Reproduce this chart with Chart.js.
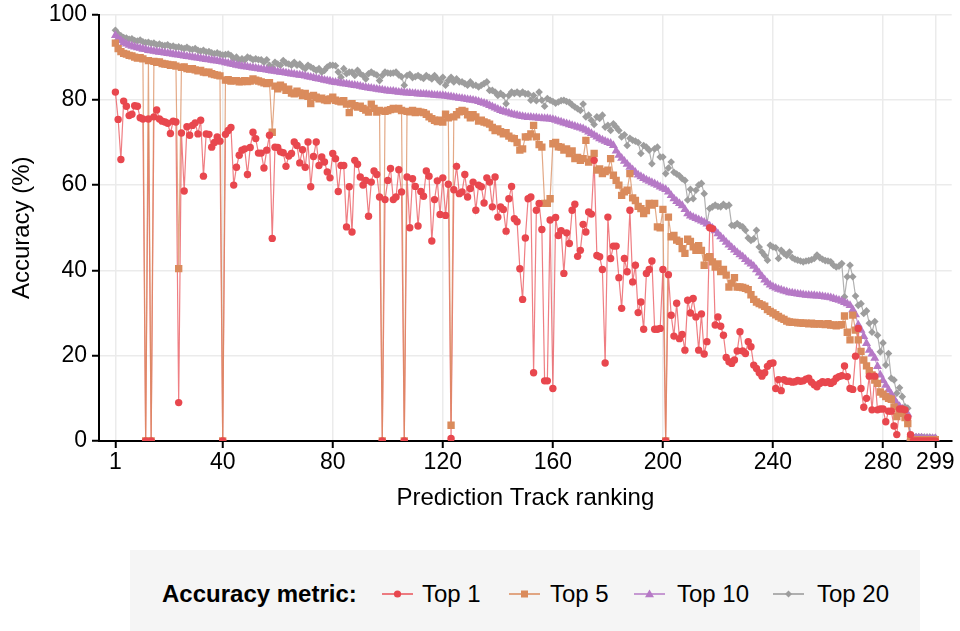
<!DOCTYPE html>
<html>
<head>
<meta charset="utf-8">
<script src="https://cdn.jsdelivr.net/npm/chart.js@4.4.1/dist/chart.umd.min.js"></script>
<style>
  body { margin: 0; background: #fff; }
  #wrap { position: relative; width: 960px; height: 631px; font-family: "Liberation Sans", Arial, sans-serif; }
  #chart { position: absolute; left: 0; top: 0; }
  #legend { position: absolute; left: 130px; top: 550px; width: 790px; height: 81px; background: #f5f5f5; }
  #legend .item { position: absolute; top: 44px; transform: translateY(-50%); font-size: 24px; line-height: 28px; color: #000; white-space: nowrap; }
  #legend .title { font-weight: bold; }
  #legend svg { position: absolute; top: 44px; transform: translateY(-50%); }
</style>
</head>
<body>
<div id="wrap">
  <canvas id="chart" width="960" height="631"></canvas>
  <div id="legend"></div>
</div>
<script>
const FONT = '"Liberation Sans", Arial, sans-serif';

// prediction track ranks on the x axis
const ranking = Array.from({ length: 299 }, (_, i) => i + 1);
const xTicks = [1, 40, 80, 120, 160, 200, 240, 280, 299];
const yTicks = [0, 20, 40, 60, 80, 100];

const top1 = [
  81.8, 75.4, 66.0, 79.7, 78.5, 76.3, 76.6, 78.6, 78.5, 75.8,
  75.5, 0, 75.5, 0, 76.0, 77.6, 75.5, 75.0, 74.8, 74.5,
  72.1, 75.0, 74.8, 9.0, 72.2, 58.6, 73.7, 71.7, 74.0, 74.6,
  72.0, 75.2, 62.1, 72.0, 71.9, 68.9, 70.0, 71.3, 70.3, 0,
  71.9, 72.8, 73.5, 60.0, 64.2, 67.0, 68.2, 68.5, 62.5, 68.8,
  72.4, 70.9, 67.5, 67.5, 64.0, 68.2, 71.7, 47.5, 68.9, 68.8,
  67.8, 67.6, 64.4, 66.8, 67.4, 70.1, 69.3, 65.2, 68.3, 64.2,
  70.1, 59.6, 66.7, 70.1, 64.6, 66.6, 65.4, 63.1, 61.7, 67.4,
  66.2, 58.5, 64.6, 64.6, 50.2, 59.6, 49.0, 65.8, 64.9, 61.9,
  60.0, 61.1, 52.7, 60.7, 63.3, 62.5, 57.2, 0, 56.6, 61.1,
  63.9, 56.6, 57.2, 63.6, 58.4, 0, 61.9, 50.0, 61.5, 59.7,
  50.4, 58.5, 57.4, 63.3, 62.1, 46.9, 56.6, 61.0, 53.1, 61.7,
  52.9, 60.2, 0.6, 58.9, 64.4, 58.0, 58.4, 62.5, 57.2, 59.2,
  60.7, 54.1, 60.0, 59.6, 55.8, 61.7, 60.7, 54.9, 61.9, 52.5,
  54.9, 54.3, 49.2, 56.8, 59.7, 52.1, 51.4, 40.4, 33.2, 47.6,
  56.8, 57.2, 16.0, 54.1, 55.7, 49.6, 14.1, 14.1, 51.8, 12.3,
  52.4, 48.2, 49.3, 39.3, 48.8, 46.3, 54.1, 55.5, 43.3, 44.7,
  50.8, 49.0, 53.7, 53.2, 65.8, 43.5, 43.2, 40.2, 18.3, 52.5,
  42.8, 45.7, 45.7, 38.3, 31.1, 42.8, 39.7, 54.1, 37.3, 41.2,
  30.1, 32.6, 26.2, 39.3, 40.2, 42.2, 26.2, 26.2, 26.4, 40.2,
  0, 39.0, 29.5, 24.6, 32.3, 24.0, 25.0, 21.3, 33.0, 30.0,
  33.4, 29.1, 21.3, 29.8, 20.4, 23.3, 50.0, 49.8, 27.2, 29.1,
  26.9, 24.8, 19.6, 18.6, 18.2, 19.0, 21.1, 25.6, 21.1, 20.5,
  23.3, 22.1, 17.8, 17.0, 16.0, 15.2, 16.0, 17.5, 18.2, 18.3,
  12.3, 14.4, 11.8, 14.4, 14.0, 14.0, 13.8, 13.9, 14.2, 14.0,
  14.1, 14.5, 14.7, 13.8, 13.2, 12.7, 13.5, 13.9, 13.7, 13.9,
  13.5, 13.9, 14.7, 15.1, 15.3, 17.6, 15.1, 12.3, 12.1, 19.9,
  26.4, 12.3, 7.9, 10.0, 15.2, 7.3, 15.2, 7.3, 7.5, 7.5,
  4.5, 7.0, 7.0, 3.5, 1.5, 7.5, 7.5, 7.3, 5.5, 1.5,
  0, 0, 0, 0, 0, 0, 0, 0, 0
];

const top5 = [
  93.3, 92.0, 91.3, 90.9, 90.7, 90.4, 90.3, 90.0, 89.8, 89.9,
  89.6, 0, 89.2, 0, 89.0, 88.8, 88.9, 88.5, 88.4, 88.3,
  88.1, 88.2, 87.9, 40.4, 87.6, 87.7, 87.3, 87.2, 87.3, 87.0,
  86.8, 86.9, 86.5, 86.4, 86.5, 86.1, 85.9, 85.8, 85.6, 0,
  84.6, 84.7, 84.4, 84.5, 84.5, 84.2, 84.3, 84.5, 84.3, 84.4,
  84.9, 84.6, 84.4, 84.2, 84.0, 83.8, 84.0, 72.4, 83.2, 82.6,
  83.4, 83.0, 82.2, 82.5, 81.6, 81.4, 82.0, 81.6, 81.0, 81.5,
  80.8, 79.1, 81.0, 80.6, 80.2, 80.4, 80.0, 79.8, 80.2, 80.6,
  79.9, 79.7, 79.5, 79.8, 79.0, 77.0, 79.1, 78.6, 78.3, 78.5,
  78.0, 77.6, 77.1, 79.0, 78.0, 77.1, 77.5, 0, 77.3, 77.5,
  77.7, 78.0, 77.8, 78.0, 77.5, 0, 77.3, 77.2, 77.5, 77.0,
  77.3, 77.1, 77.0, 76.6, 76.0, 75.6, 75.2, 74.9, 75.2, 74.8,
  76.6, 75.8, 3.7, 76.0, 76.5, 77.2, 77.5, 77.3, 76.5, 75.8,
  76.5, 76.0, 75.0, 75.2, 74.8, 74.6, 74.3, 73.5, 72.8, 73.2,
  72.5, 72.0, 72.3, 71.5, 71.0, 70.9, 70.0, 68.2, 68.5, 71.3,
  71.3, 72.0, 74.0, 71.3, 69.5, 68.9, 55.7, 55.7, 56.8, 69.7,
  70.0, 69.0, 68.9, 68.2, 68.5, 67.4, 68.0, 66.2, 66.5, 65.8,
  66.2, 70.5, 65.4, 66.0, 67.4, 63.5, 63.8, 62.7, 63.2, 63.5,
  66.2, 62.3, 61.1, 60.0, 57.6, 58.4, 58.8, 62.7, 57.0, 56.4,
  55.0, 54.5, 53.3, 54.0, 55.7, 55.3, 55.7, 50.2, 50.0, 54.3,
  0, 52.5, 47.9, 48.2, 47.1, 46.8, 45.1, 44.0, 47.3, 46.8,
  45.5, 44.7, 45.8, 44.7, 41.2, 43.0, 43.2, 42.0, 40.8, 41.5,
  39.7, 40.2, 38.9, 36.1, 37.0, 38.3, 36.1, 36.1, 36.0, 35.8,
  35.5, 34.3, 33.2, 32.6, 32.2, 31.9, 31.6, 30.8, 30.4, 30.0,
  29.6, 29.2, 28.8, 28.5, 28.1, 27.9, 27.8, 27.8, 27.7, 27.7,
  27.6, 27.6, 27.5, 27.6, 27.4, 27.5, 27.5, 27.4, 27.3, 27.5,
  27.2, 27.2, 27.0, 27.2, 27.3, 29.3, 25.5, 23.7, 29.5, 26.0,
  23.7, 21.0, 19.0, 17.6, 16.5, 15.5, 14.3, 13.5, 11.5, 11.0,
  10.4, 10.0, 9.8, 8.0, 5.7, 7.3, 6.5, 5.5, 4.1, 0.4,
  0.3, 0.3, 0.3, 0.3, 0.3, 0.3, 0.3, 0.3, 0.3
];

const top10 = [
  95.1, 94.4, 93.9, 93.4, 93.1, 92.8, 92.6, 92.4, 92.2, 92.1,
  91.9, 91.8, 91.6, 91.5, 91.4, 91.3, 91.2, 91.1, 91.0, 90.9,
  90.8, 90.7, 90.6, 90.5, 90.4, 90.3, 90.2, 90.1, 90.0, 89.9,
  89.8, 89.7, 89.6, 89.5, 89.4, 89.3, 89.2, 89.1, 89.0, 88.9,
  88.7, 88.6, 88.4, 88.3, 88.1, 88.0, 87.9, 87.8, 87.7, 87.6,
  87.5, 87.4, 87.3, 87.2, 87.1, 87.0, 86.9, 86.8, 86.7, 86.6,
  86.5, 86.4, 86.3, 86.2, 86.1, 86.0, 85.9, 85.8, 85.7, 85.6,
  85.4, 85.3, 85.2, 85.0, 84.9, 84.8, 84.6, 84.5, 84.4, 84.2,
  84.1, 84.0, 83.9, 83.8, 83.7, 83.6, 83.5, 83.4, 83.3, 83.2,
  83.0, 82.9, 82.8, 82.7, 82.6, 82.5, 82.4, 82.3, 82.2, 82.1,
  82.0, 82.0, 81.9, 81.8, 81.8, 81.7, 81.6, 81.6, 81.5, 81.5,
  81.4, 81.4, 81.3, 81.3, 81.2, 81.2, 81.1, 81.1, 81.0, 81.0,
  80.9, 80.8, 80.7, 80.6, 80.5, 80.4, 80.3, 80.2, 80.1, 80.0,
  79.9, 79.8, 79.6, 79.4, 79.2, 79.0, 78.7, 78.4, 78.1, 77.8,
  77.5, 77.3, 77.1, 76.9, 76.7, 76.5, 76.4, 76.2, 76.1, 76.0,
  75.9, 75.9, 75.8, 75.8, 75.7, 75.7, 75.6, 75.6, 75.5, 75.4,
  75.2, 75.0, 74.8, 74.6, 74.4, 74.2, 74.0, 73.8, 73.6, 73.4,
  73.2, 72.9, 72.5, 72.1, 71.7, 71.3, 70.9, 70.6, 70.3, 70.0,
  69.8, 69.3, 68.0, 67.0, 66.3, 65.6, 64.9, 64.2, 63.6, 63.0,
  62.4, 62.0, 61.6, 61.2, 60.9, 60.6, 60.3, 60.0, 59.6, 59.3,
  59.0, 58.4, 57.6, 56.8, 56.2, 55.7, 55.2, 54.3, 53.3, 52.8,
  52.5, 52.2, 51.9, 51.6, 51.3, 50.9, 50.4, 49.9, 49.3, 48.6,
  47.9, 47.3, 46.6, 46.0, 45.4, 44.8, 44.2, 43.7, 43.2, 42.6,
  42.0, 41.5, 41.0, 40.2, 39.4, 38.6, 37.8, 37.1, 36.6, 36.2,
  35.9, 35.6, 35.4, 35.2, 35.0, 34.8, 34.7, 34.6, 34.5, 34.4,
  34.3, 34.2, 34.2, 34.1, 34.1, 34.0, 34.0, 33.9, 33.8, 33.7,
  33.6, 33.4, 33.2, 33.0, 32.8, 32.5, 32.2, 31.8, 30.8, 29.6,
  27.2, 26.0, 24.5, 22.9, 21.3, 20.4, 19.4, 17.5, 15.5, 14.2,
  13.1, 12.0, 11.0, 9.9, 8.8, 8.1, 7.5, 6.9, 6.3, 0.7,
  0.7, 0.7, 0.7, 0.7, 0.6, 0.6, 0.6, 0.6, 0.6
];

const top20 = [
  96.3, 95.5, 95.0, 94.6, 94.5, 94.2, 94.3, 93.9, 93.8, 94.0,
  93.6, 93.4, 93.5, 93.2, 93.3, 92.9, 93.1, 92.8, 92.7, 92.9,
  92.5, 92.6, 92.3, 92.4, 92.2, 92.0, 92.3, 91.9, 91.8, 92.0,
  91.6, 91.4, 91.6, 91.2, 91.3, 91.0, 90.8, 91.0, 90.7, 90.5,
  90.6, 90.7, 90.4, 89.6, 90.0, 89.2, 89.6, 89.3, 90.0, 89.8,
  89.4, 89.6, 89.4, 89.4, 88.8, 89.4, 88.1, 87.7, 88.8, 88.4,
  88.1, 89.2, 88.6, 88.4, 88.1, 88.8, 88.1, 88.4, 87.7, 87.3,
  88.1, 87.7, 87.3, 86.9, 87.3, 86.5, 86.9, 87.7, 88.1, 88.1,
  88.0, 86.5, 85.3, 87.3, 86.1, 86.5, 86.5, 85.7, 86.9, 86.1,
  85.7, 84.9, 86.1, 86.5, 86.1, 85.8, 84.5, 85.7, 86.5, 86.3,
  86.2, 86.3, 86.5, 85.8, 85.4, 83.4, 85.7, 86.0, 85.2, 85.4,
  85.7, 85.3, 85.0, 85.7, 85.3, 84.9, 85.7, 84.9, 84.2, 85.3,
  83.4, 84.5, 85.3, 84.2, 84.9, 84.2, 84.2, 83.8, 83.4, 84.2,
  83.4, 83.4, 83.0, 83.4, 83.8, 84.2, 82.2, 82.2, 81.8, 81.0,
  81.5, 81.0, 79.1, 81.0, 81.8, 81.5, 81.8, 81.4, 81.8, 81.4,
  81.4, 79.9, 81.0, 79.8, 81.8, 79.9, 78.5, 80.3, 79.9, 79.6,
  79.2, 79.5, 79.8, 79.9, 79.6, 79.4, 78.8, 78.3, 77.9, 77.5,
  79.0, 76.0, 76.4, 75.2, 74.2, 76.0, 75.6, 76.4, 73.6, 74.0,
  72.8, 74.4, 73.6, 72.8, 71.3, 71.8, 69.3, 71.0, 70.5, 70.3,
  70.0, 67.4, 69.3, 68.9, 68.2, 65.0, 68.5, 68.9, 66.6, 66.6,
  62.7, 64.0, 65.4, 63.0, 62.6, 62.2, 61.5, 61.1, 56.5, 59.0,
  56.8, 58.8, 60.0, 60.4, 58.0, 51.0, 54.5, 54.9, 55.3, 55.0,
  54.9, 55.5, 55.0, 55.3, 50.6, 50.5, 51.0, 50.5, 50.2, 49.4,
  47.6, 47.0, 47.4, 49.4, 45.5, 44.3, 43.5, 42.4, 45.9, 45.5,
  45.3, 42.8, 44.7, 44.0, 43.5, 44.3, 43.0, 42.6, 42.4, 42.2,
  42.0, 42.2, 42.3, 42.5, 42.8, 43.6, 43.0, 42.6, 42.3, 42.2,
  42.0, 41.2, 40.8, 41.0, 41.6, 33.8, 38.5, 41.2, 38.5, 34.0,
  31.8, 32.2, 29.9, 30.5, 27.6, 25.5, 28.0, 24.8, 20.9, 23.0,
  17.8, 20.5, 14.7, 14.3, 11.2, 12.5, 10.4, 8.0, 7.7, 1.0,
  1.0, 1.0, 1.0, 1.0, 0.9, 0.9, 0.9, 0.8, 0.8
];

const metrics = [
  { label: 'Top 1',  values: top1,  color: '#e8474e', line: 'rgba(232,71,78,0.7)',   style: 'circle',   radius: 3.7 },
  { label: 'Top 5',  values: top5,  color: '#da8b5c', line: 'rgba(218,139,92,0.75)', style: 'rect',     radius: 5.2 },
  { label: 'Top 10', values: top10, color: '#b679c6', line: 'rgba(182,121,198,0.75)', style: 'triangle', radius: 5.2 },
  { label: 'Top 20', values: top20, color: '#9d9d9d', line: 'rgba(157,157,157,0.8)', style: 'rectRot',  radius: 3.8 }
];

const toPoints = (values) => values.map((v, i) => ({ x: ranking[i], y: v }));

// all connecting lines go underneath, markers on top (Top 1 markers last)
const lineSets = metrics.map((m, k) => ({
  label: m.label,
  data: toPoints(m.values),
  borderColor: m.line,
  borderWidth: 1.2,
  pointRadius: 0,
  tension: 0,
  order: 8 - k
}));
const markerSets = metrics.map((m, k) => ({
  label: m.label,
  data: toPoints(m.values),
  showLine: false,
  pointStyle: m.style,
  pointRadius: m.radius,
  pointBackgroundColor: m.color,
  pointBorderWidth: 0,
  order: k + 1
}));

new Chart(document.getElementById('chart'), {
  type: 'line',
  data: { datasets: [...lineSets, ...markerSets] },
  options: {
    responsive: false,
    animation: false,
    events: [],
    layout: { padding: { left: 0, right: 8.3, top: 14.5, bottom: 0 } },
    plugins: { legend: { display: false }, tooltip: { enabled: false } },
    scales: {
      x: {
        type: 'linear',
        min: -4.96,
        max: 304.96,
        afterBuildTicks: (scale) => { scale.ticks = xTicks.map((v) => ({ value: v })); },
        afterFit: (scale) => { scale.height = 190; scale.paddingLeft = 0; scale.paddingRight = 0; },
        ticks: { font: { family: FONT, size: 23 }, color: '#000', padding: 1, maxRotation: 0, autoSkip: false },
        grid: { color: '#ebebeb', lineWidth: 1.5, tickColor: '#000', tickLength: 7, tickWidth: 2 },
        border: { color: '#000', width: 2 },
        title: { display: true, text: 'Prediction Track ranking', font: { family: FONT, size: 24 }, color: '#000', padding: { top: 0, bottom: 118.6 } }
      },
      y: {
        type: 'linear',
        min: 0,
        max: 100,
        afterBuildTicks: (scale) => { scale.ticks = yTicks.map((v) => ({ value: v })); },
        afterFit: (scale) => { scale.width = 99; scale.paddingTop = 0; scale.paddingBottom = 0; },
        ticks: { font: { family: FONT, size: 23 }, color: '#000', padding: 5 },
        grid: { color: '#ebebeb', lineWidth: 1.5, tickColor: '#000', tickLength: 7, tickWidth: 2 },
        border: { color: '#000', width: 2 },
        title: { display: true, text: 'Accuracy (%)', font: { family: FONT, size: 24 }, color: '#000', padding: { top: 7.6, bottom: 0 } }
      }
    }
  }
});

// legend strip below the plot
const legend = document.getElementById('legend');
const swatchShapes = {
  circle: (c) => `<circle cx="15.5" cy="8" r="3.6" fill="${c}"/>`,
  rect: (c) => `<rect x="12" y="4.5" width="7" height="7" fill="${c}"/>`,
  triangle: (c) => `<polygon points="15.5,3.5 20,11.2 11,11.2" fill="${c}"/>`,
  rectRot: (c) => `<polygon points="15.5,4.5 19,8 15.5,11.5 12,8" fill="${c}"/>`
};
const swatchLeft = [252, 379, 504, 643];
const textLeft = [292, 420, 547, 687];
let html = '<div class="item title" style="left:32px">Accuracy metric:</div>';
metrics.forEach((m, k) => {
  html += `<svg width="31" height="16" style="left:${swatchLeft[k]}px">` +
    `<line x1="0" y1="8" x2="31" y2="8" stroke="${m.line}" stroke-width="2"/>` +
    swatchShapes[m.style](m.color) + '</svg>';
  html += `<div class="item" style="left:${textLeft[k]}px">${m.label}</div>`;
});
legend.innerHTML = html;
</script>
</body>
</html>
